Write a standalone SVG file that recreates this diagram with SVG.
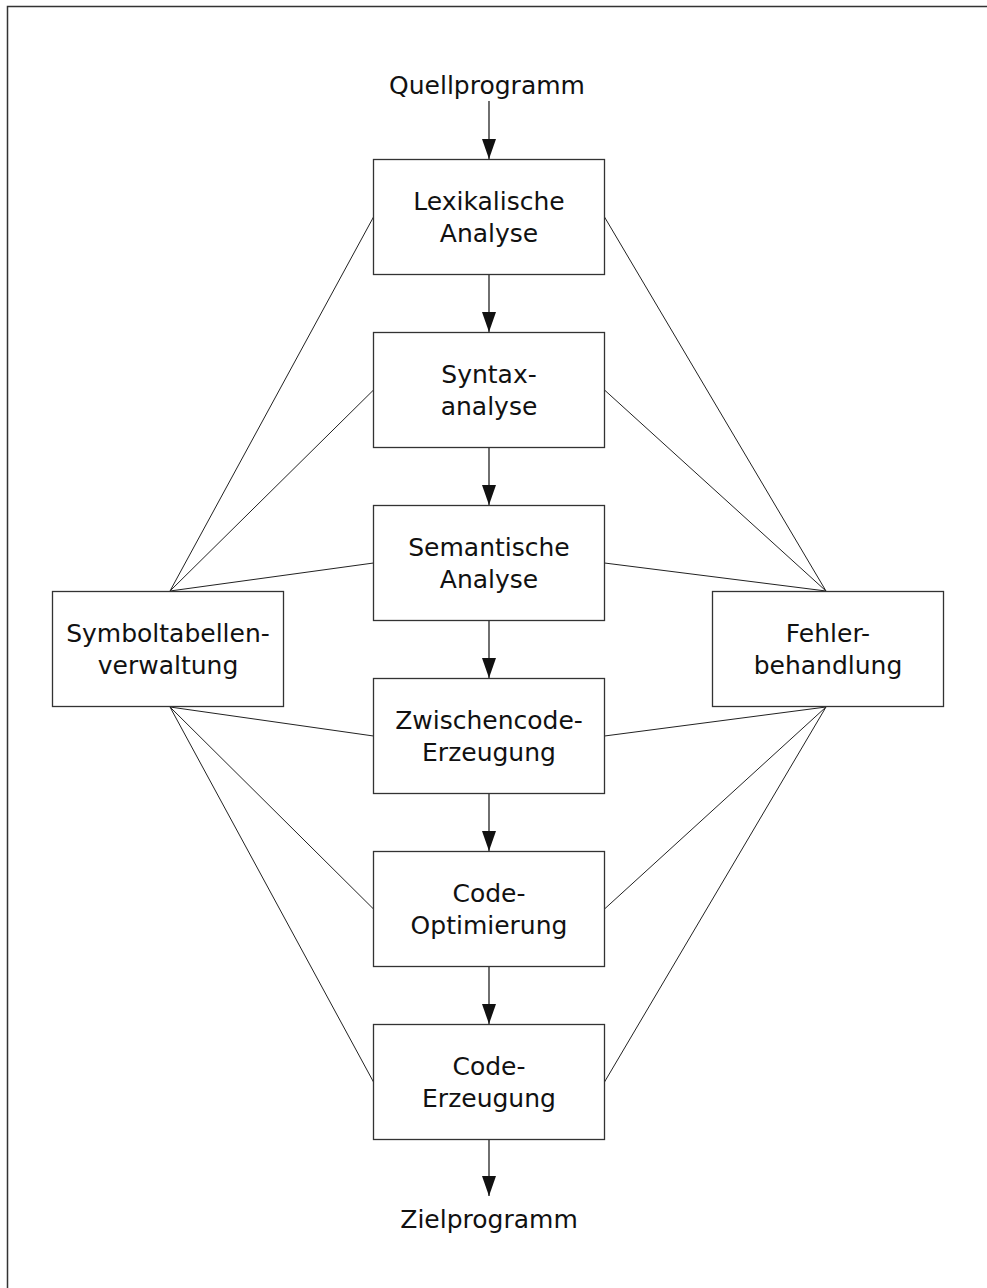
<svg xmlns="http://www.w3.org/2000/svg" width="987" height="1288" viewBox="0 0 987 1288">
<style>
.box{fill:#fff;stroke:#333;stroke-width:1.3}
.t{font-family:"DejaVu Sans",sans-serif;font-size:25px;fill:#111;text-anchor:middle}
.ln{stroke:#222;stroke-width:1;fill:none}
.ar{stroke:#222;stroke-width:1.3;fill:none;marker-end:url(#ah)}
</style>
<defs>
<marker id="ah" markerUnits="userSpaceOnUse" markerWidth="20" markerHeight="14" refX="20" refY="7" orient="auto" viewBox="0 0 20 14">
<path d="M0,0 L20,7 L0,14 Z" fill="#111"/>
</marker>
</defs>
<rect x="7.5" y="6.5" width="1100" height="1400" fill="#fff" stroke="#333" stroke-width="1.5"/>
<g id="connectors">
<line class="ln" x1="170" y1="591" x2="373.5" y2="217"/>
<line class="ln" x1="170" y1="591" x2="373.5" y2="390"/>
<line class="ln" x1="170" y1="591" x2="373.5" y2="563"/>
<line class="ln" x1="170" y1="707" x2="373.5" y2="736"/>
<line class="ln" x1="170" y1="707" x2="373.5" y2="909"/>
<line class="ln" x1="170" y1="707" x2="373.5" y2="1082"/>
<line class="ln" x1="826" y1="591" x2="604.5" y2="217"/>
<line class="ln" x1="826" y1="591" x2="604.5" y2="390"/>
<line class="ln" x1="826" y1="591" x2="604.5" y2="563"/>
<line class="ln" x1="826" y1="707" x2="604.5" y2="736"/>
<line class="ln" x1="826" y1="707" x2="604.5" y2="909"/>
<line class="ln" x1="826" y1="707" x2="604.5" y2="1082"/>
<line class="ar" x1="489" y1="101" x2="489" y2="159"/>
<line class="ar" x1="489" y1="274.5" x2="489" y2="332"/>
<line class="ar" x1="489" y1="447.5" x2="489" y2="505"/>
<line class="ar" x1="489" y1="620.5" x2="489" y2="678"/>
<line class="ar" x1="489" y1="793.5" x2="489" y2="851"/>
<line class="ar" x1="489" y1="966.5" x2="489" y2="1024"/>
<line class="ar" x1="489" y1="1139.5" x2="489" y2="1196"/>
</g>
<g id="quellprogramm"><text class="t" x="487" y="94">Quellprogramm</text></g>
<g id="lexikalische"><rect class="box" x="373.5" y="159.5" width="231" height="115"/><text class="t" x="489" y="209.5">Lexikalische</text><text class="t" x="489" y="241.5">Analyse</text></g>
<g id="syntax"><rect class="box" x="373.5" y="332.5" width="231" height="115"/><text class="t" x="489" y="382.5">Syntax-</text><text class="t" x="489" y="414.5">analyse</text></g>
<g id="semantische"><rect class="box" x="373.5" y="505.5" width="231" height="115"/><text class="t" x="489" y="555.5">Semantische</text><text class="t" x="489" y="587.5">Analyse</text></g>
<g id="zwischencode"><rect class="box" x="373.5" y="678.5" width="231" height="115"/><text class="t" x="489" y="728.5">Zwischencode-</text><text class="t" x="489" y="760.5">Erzeugung</text></g>
<g id="optimierung"><rect class="box" x="373.5" y="851.5" width="231" height="115"/><text class="t" x="489" y="901.5">Code-</text><text class="t" x="489" y="933.5">Optimierung</text></g>
<g id="codeerzeugung"><rect class="box" x="373.5" y="1024.5" width="231" height="115"/><text class="t" x="489" y="1074.5">Code-</text><text class="t" x="489" y="1106.5">Erzeugung</text></g>
<g id="symboltabelle"><rect class="box" x="52.5" y="591.5" width="231" height="115"/><text class="t" x="168" y="641.5">Symboltabellen-</text><text class="t" x="168" y="673.5">verwaltung</text></g>
<g id="fehler"><rect class="box" x="712.5" y="591.5" width="231" height="115"/><text class="t" x="828" y="641.5">Fehler-</text><text class="t" x="828" y="673.5">behandlung</text></g>
<g id="zielprogramm"><text class="t" x="489" y="1228">Zielprogramm</text></g>
</svg>
